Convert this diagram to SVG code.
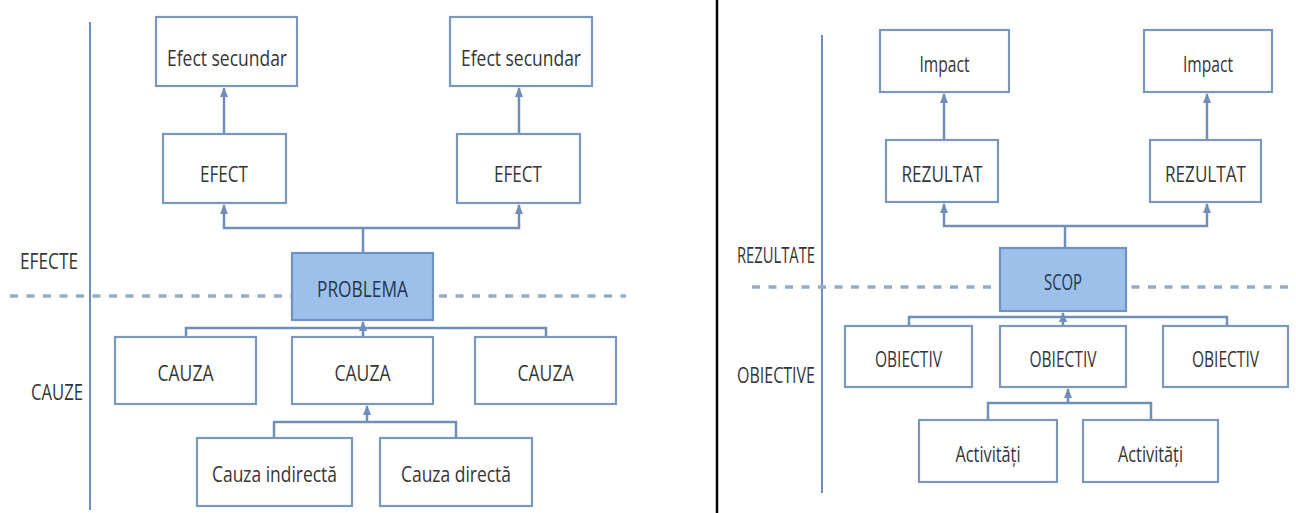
<svg xmlns="http://www.w3.org/2000/svg" width="1296" height="513" viewBox="0 0 1296 513">
<style>
.box{fill:#ffffff;stroke:#7b97bd;stroke-width:2.2}
.key{fill:#9dc0ea;stroke:#6f92c2;stroke-width:2.2}
.t{font-family:"Open Sans","Liberation Sans",sans-serif;font-size:22px;fill:#353535;text-anchor:middle}
.tk{font-family:"Open Sans","Liberation Sans",sans-serif;font-size:22px;fill:#22364d;text-anchor:middle}
.lab{font-family:"Open Sans","Liberation Sans",sans-serif;font-size:21px;fill:#353535}
.con{fill:none;stroke:#6f8fb9;stroke-width:2.5}
.axis{stroke:#6d8fc0;stroke-width:2}
.dash{stroke:#95abc6;stroke-width:3.5;stroke-dasharray:8 8.5}
</style>
<defs>
<marker id="arr" markerUnits="userSpaceOnUse" markerWidth="10" markerHeight="10" viewBox="0 0 10 10" refX="9" refY="5" orient="auto-start-reverse">
<path d="M0,1 L10,5 L0,9 Z" fill="#6f8fb9"/>
</marker>
</defs>
<rect width="1296" height="513" fill="#ffffff"/>
<g id="guides">
<line class="axis" x1="90" y1="22" x2="90" y2="510"/>
<line class="dash" x1="10" y1="296" x2="626" y2="296"/>
<line class="axis" x1="822" y1="35" x2="822" y2="493"/>
<line class="dash" x1="752" y1="287" x2="1296" y2="287"/>
<line x1="717" y1="0" x2="717" y2="513" stroke="#000000" stroke-width="2.5"/>
</g>
<g id="labels">
<text class="lab" x="20" y="269" textLength="58" lengthAdjust="spacingAndGlyphs">EFECTE</text>
<text class="lab" x="31" y="400" textLength="52" lengthAdjust="spacingAndGlyphs">CAUZE</text>
<text class="lab" x="737" y="263" textLength="78" lengthAdjust="spacingAndGlyphs">REZULTATE</text>
<text class="lab" x="737" y="383" textLength="78" lengthAdjust="spacingAndGlyphs">OBIECTIVE</text>
</g>
<g id="connectors">
<path class="con" d="M224 134 V88" marker-end="url(#arr)"/>
<path class="con" d="M519 134 V88" marker-end="url(#arr)"/>
<path class="con" d="M224 205 V228 H519 V205" marker-start="url(#arr)" marker-end="url(#arr)"/>
<path class="con" d="M363 253 V228"/>
<path class="con" d="M186 337 V328 H546 V337"/>
<path class="con" d="M363 337 V322" marker-end="url(#arr)"/>
<path class="con" d="M274 438 V422 H456 V438"/>
<path class="con" d="M367 422 V406" marker-end="url(#arr)"/>
<path class="con" d="M944 140 V94" marker-end="url(#arr)"/>
<path class="con" d="M1207 140 V94" marker-end="url(#arr)"/>
<path class="con" d="M944 204 V226 H1207 V204" marker-start="url(#arr)" marker-end="url(#arr)"/>
<path class="con" d="M1065 248 V226"/>
<path class="con" d="M909 326 V317 H1227 V326"/>
<path class="con" d="M1063 326 V313" marker-end="url(#arr)"/>
<path class="con" d="M988 420 V403 H1151 V420"/>
<path class="con" d="M1068 403 V389" marker-end="url(#arr)"/>
</g>
<g id="efect-secundar-1"><rect class="box" x="156" y="17" width="141" height="69"/><text class="t" x="227" y="66" textLength="120" lengthAdjust="spacingAndGlyphs">Efect secundar</text></g>
<g id="efect-secundar-2"><rect class="box" x="450" y="17" width="142" height="69"/><text class="t" x="521" y="66" textLength="120" lengthAdjust="spacingAndGlyphs">Efect secundar</text></g>
<g id="efect-1"><rect class="box" x="163" y="134" width="123" height="69"/><text class="t" x="224" y="182" textLength="48" lengthAdjust="spacingAndGlyphs">EFECT</text></g>
<g id="efect-2"><rect class="box" x="457" y="134" width="123" height="69"/><text class="t" x="518" y="182" textLength="48" lengthAdjust="spacingAndGlyphs">EFECT</text></g>
<g id="problema"><rect class="key" x="292" y="253" width="141" height="67"/><text class="tk" x="362.5" y="297" textLength="91" lengthAdjust="spacingAndGlyphs">PROBLEMA</text></g>
<g id="cauza-1"><rect class="box" x="115" y="337" width="141" height="67"/><text class="t" x="185.5" y="381" textLength="56" lengthAdjust="spacingAndGlyphs">CAUZA</text></g>
<g id="cauza-2"><rect class="box" x="292" y="337" width="141" height="67"/><text class="t" x="362.5" y="381" textLength="56" lengthAdjust="spacingAndGlyphs">CAUZA</text></g>
<g id="cauza-3"><rect class="box" x="475" y="337" width="141" height="67"/><text class="t" x="545.5" y="381" textLength="56" lengthAdjust="spacingAndGlyphs">CAUZA</text></g>
<g id="cauza-indirecta"><rect class="box" x="197" y="438" width="155" height="68"/><text class="t" x="274.5" y="482" textLength="125" lengthAdjust="spacingAndGlyphs">Cauza indirectă</text></g>
<g id="cauza-directa"><rect class="box" x="380" y="438" width="152" height="68"/><text class="t" x="456" y="482" textLength="110" lengthAdjust="spacingAndGlyphs">Cauza directă</text></g>
<g id="impact-1"><rect class="box" x="880" y="30" width="129" height="62"/><text class="t" x="944.5" y="72" textLength="50" lengthAdjust="spacingAndGlyphs">Impact</text></g>
<g id="impact-2"><rect class="box" x="1144" y="30" width="128" height="62"/><text class="t" x="1208" y="72" textLength="50" lengthAdjust="spacingAndGlyphs">Impact</text></g>
<g id="rezultat-1"><rect class="box" x="886" y="140" width="112" height="62"/><text class="t" x="942" y="182" textLength="81" lengthAdjust="spacingAndGlyphs">REZULTAT</text></g>
<g id="rezultat-2"><rect class="box" x="1150" y="140" width="111" height="62"/><text class="t" x="1205.5" y="182" textLength="81" lengthAdjust="spacingAndGlyphs">REZULTAT</text></g>
<g id="scop"><rect class="key" x="1000" y="248" width="126" height="63"/><text class="tk" x="1063" y="290" textLength="38" lengthAdjust="spacingAndGlyphs">SCOP</text></g>
<g id="obiectiv-1"><rect class="box" x="845" y="326" width="127" height="61"/><text class="t" x="908.5" y="367" textLength="67" lengthAdjust="spacingAndGlyphs">OBIECTIV</text></g>
<g id="obiectiv-2"><rect class="box" x="1000" y="326" width="126" height="61"/><text class="t" x="1063" y="367" textLength="67" lengthAdjust="spacingAndGlyphs">OBIECTIV</text></g>
<g id="obiectiv-3"><rect class="box" x="1163" y="326" width="125" height="61"/><text class="t" x="1225.5" y="367" textLength="67" lengthAdjust="spacingAndGlyphs">OBIECTIV</text></g>
<g id="activitati-1"><rect class="box" x="919" y="420" width="138" height="62"/><text class="t" x="988" y="462" textLength="65" lengthAdjust="spacingAndGlyphs">Activități</text></g>
<g id="activitati-2"><rect class="box" x="1083" y="420" width="135" height="62"/><text class="t" x="1150.5" y="462" textLength="65" lengthAdjust="spacingAndGlyphs">Activități</text></g>
</svg>
